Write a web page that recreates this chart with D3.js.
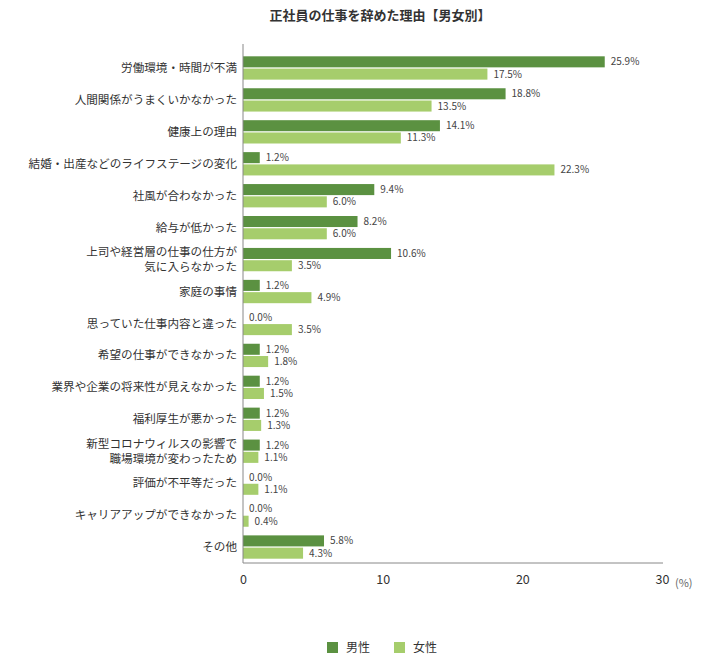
<!DOCTYPE html>
<html><head><meta charset="utf-8">
<script src="https://cdn.jsdelivr.net/npm/d3@7"></script>
<style>
body{margin:0;background:#fff;}
text{font-family:"Noto Sans CJK JP","Noto Sans",sans-serif;}
</style></head>
<body><svg id="c" width="712" height="662"></svg>
<script>
const categories = [
 "労働環境・時間が不満",
 "人間関係がうまくいかなかった",
 "健康上の理由",
 "結婚・出産などのライフステージの変化",
 "社風が合わなかった",
 "給与が低かった",
 "上司や経営層の仕事の仕方が\n気に入らなかった",
 "家庭の事情",
 "思っていた仕事内容と違った",
 "希望の仕事ができなかった",
 "業界や企業の将来性が見えなかった",
 "福利厚生が悪かった",
 "新型コロナウィルスの影響で\n職場環境が変わったため",
 "評価が不平等だった",
 "キャリアアップができなかった",
 "その他"
];
const male   = [25.9,18.8,14.1,1.2,9.4,8.2,10.6,1.2,0.0,1.2,1.2,1.2,1.2,0.0,0.0,5.8];
const female = [17.5,13.5,11.3,22.3,6.0,6.0,3.5,4.9,3.5,1.8,1.5,1.3,1.1,1.1,0.4,4.3];
const seriesNames = ["男性","女性"];
const xTicks = [0,10,20,30];
const title = "正社員の仕事を辞めた理由【男女別】";

const colors = ["#5b9141","#a6cd6c"];
const svg = d3.select("#c");
const x = d3.scaleLinear().domain([0,30]).range([243,662]);
const y = d3.scaleBand().domain(categories).range([52,563]).paddingInner(0.27).paddingOuter(0.135);
const sub = d3.scaleBand().domain(seriesNames).range([0,y.bandwidth()]).paddingInner(0.1);

svg.append("text").attr("x",380).attr("y",20).attr("text-anchor","middle")
  .attr("font-size",13).attr("font-weight","bold").attr("fill","#333").text(title);

const data = [male,female];
seriesNames.forEach((s,si)=>{
  const g = svg.append("g");
  g.selectAll("rect").data(categories).join("rect")
    .attr("x",x(0)).attr("y",d=>y(d)+sub(s))
    .attr("width",(d,i)=>x(data[si][i])-x(0)).attr("height",sub.bandwidth())
    .attr("fill",colors[si]);
  g.selectAll("text").data(categories).join("text")
    .attr("x",(d,i)=>x(data[si][i])+6).attr("y",(d)=>y(d)+sub(s)+sub.bandwidth()/2)
    .attr("dy","0.35em").attr("font-size",10).attr("fill","#444")
    .text((d,i)=>data[si][i].toFixed(1)+"%");
});

// category labels
categories.forEach(c=>{
  const lines = c.split("\n");
  const cy = y(c)+y.bandwidth()/2;
  lines.forEach((l,li)=>{
    svg.append("text").attr("x",237).attr("y",cy+(li-(lines.length-1)/2)*14.5)
      .attr("dy","0.35em").attr("text-anchor","end").attr("font-size",11.6).attr("fill","#333").text(l);
  });
});

// axes
svg.append("line").attr("x1",x(0)).attr("x2",x(0)).attr("y1",44).attr("y2",563).attr("stroke","#888").attr("stroke-width",1);
svg.append("line").attr("x1",x(0)).attr("x2",663).attr("y1",563).attr("y2",563).attr("stroke","#888").attr("stroke-width",1);
const ax = svg.append("g").attr("transform","translate(0,563)")
  .call(d3.axisBottom(x).tickValues(xTicks).tickSize(0).tickPadding(12).tickFormat(d3.format("d")));
ax.select(".domain").remove();
ax.selectAll("text").attr("font-size",12.5).attr("fill","#333").style("font-family","'Noto Sans CJK JP','Noto Sans',sans-serif");
svg.append("text").attr("x",x(30)+13).attr("y",583).attr("dy","0.35em").attr("font-size",11).attr("fill","#666").text("(%)");

// legend
const lx = [327,394];
seriesNames.forEach((s,i)=>{
  svg.append("rect").attr("x",lx[i]).attr("y",642).attr("width",11).attr("height",11).attr("fill",colors[i]);
  svg.append("text").attr("x",lx[i]+19).attr("y",647.5).attr("dy","0.35em").attr("font-size",12).attr("fill","#333").text(s);
});
</script></body></html>
